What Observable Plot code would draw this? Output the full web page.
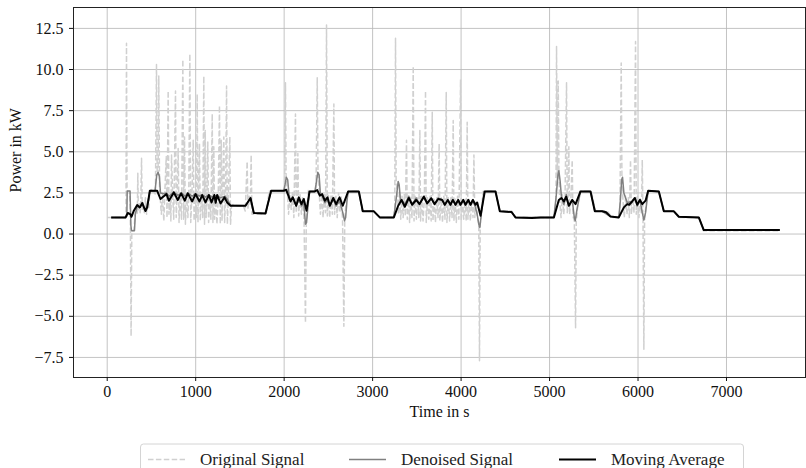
<!DOCTYPE html>
<html><head><meta charset="utf-8">
<script src="https://cdn.jsdelivr.net/npm/d3@7"></script>
<script src="https://cdn.jsdelivr.net/npm/@observablehq/plot@0.6"></script>
<style>
body{margin:0;background:#fff;}
#wrap{position:relative;width:806px;height:468px;overflow:hidden;background:#fff}
#legend{position:absolute;left:0;top:430px}
</style></head><body>
<div id="wrap"><div id="chart"></div><svg id="legend" width="806" height="38"></svg></div>
<script>
// ---- data (time in s, power in kW) ----
const xTicks = [0, 1000, 2000, 3000, 4000, 5000, 6000, 7000];
const yTicks = [-7.5, -5, -2.5, 0, 2.5, 5, 7.5, 10, 12.5];
const seriesNames = ["Original Signal", "Denoised Signal", "Moving Average"];

const originalSignal = [
[0,1.0],[100,1.0],[205,1.0],[212,1.1],[218,11.6],[224,2.7],[232,2.6],[255,2.6],[262,0.4],[270,-6.2],[278,0.1],[290,0.2],[305,0.3],[315,1.3],[330,1.6],[340,1.2],[346,3.7],[352,1.4],[362,1.9],[372,1.3],[380,2.0],[388,4.6],[396,1.5],[410,1.9],[420,1.3],[432,2.2],[445,1.2],[458,2.0],[470,1.6],[482,2.6],[500,2.7],[515,2.5],[530,2.6],[545,2.4],[557,10.3],[565,3.8],[575,3.6],[583,9.6],[592,2.6],[603,1.9],
[612,1.2],[625,2.4],[640,0.8],[652,2.6],[667,4.7],[676,1.0],[689,8.7],[698,1.2],[712,2.5],[720,0.8],[727,4.8],[740,2.4],[752,0.9],[772,8.7],[780,1.0],[792,2.5],[802,5.2],[812,0.7],[825,2.5],[840,0.9],[855,10.6],[864,0.9],[874,5.9],[884,0.6],[898,2.4],[912,1.0],[922,2.5],[934,10.95],[944,0.7],[958,2.4],[972,5.7],[982,0.8],[995,2.4],[1008,1.0],[1017,8.5],[1026,0.7],[1043,5.5],[1052,0.8],[1066,2.4],[1080,1.0],[1092,9.6],[1100,0.6],[1108,6.3],[1118,1.0],[1128,2.3],[1137,5.6],[1146,0.7],[1160,2.3],[1172,0.9],[1187,7.3],[1195,0.7],[1205,5.3],[1214,0.9],[1228,2.3],[1240,0.6],[1255,2.2],[1269,7.8],[1278,0.6],[1289,5.7],[1298,0.8],[1318,5.9],[1327,0.7],[1338,2.2],[1349,9.0],[1358,0.6],[1368,2.0],[1386,5.9],[1394,0.6],[1405,1.7],
[1420,1.8],[1480,1.7],[1540,1.7],[1560,1.4],[1582,4.4],[1590,1.5],[1605,2.3],[1618,1.8],[1627,4.8],[1636,1.2],[1660,1.2],[1750,1.2],[1800,1.3],[1830,2.6],[1900,2.6],[1990,2.6],
[2005,2.8],[2015,9.2],[2022,3.4],[2035,2.7],[2050,1.2],[2065,2.4],[2080,1.5],[2095,2.6],[2110,1.0],[2128,7.3],[2136,1.3],[2146,2.2],[2155,4.9],[2164,1.1],[2180,2.4],[2195,1.2],[2210,2.3],[2225,0.8],[2241,-5.4],[2250,0.6],[2262,1.8],[2275,2.7],[2290,2.6],[2320,2.6],[2345,2.6],[2360,2.8],[2374,9.5],[2383,3.5],[2395,2.6],[2410,1.2],[2425,2.4],[2440,1.0],[2455,2.5],[2468,1.3],[2479,12.7],[2488,1.1],[2500,2.4],[2515,1.0],[2530,2.4],[2545,1.2],[2562,7.9],[2570,1.2],[2585,2.3],[2600,1.0],[2615,2.5],[2630,1.3],[2645,2.3],[2660,0.9],[2675,-5.6],[2685,0.8],[2700,2.0],[2720,2.6],[2850,2.6],[2880,1.4],[3010,1.4],[3080,1.0],[3240,1.0],
[3250,1.6],[3259,11.9],[3266,3.1],[3280,2.6],[3292,1.2],[3305,2.4],[3318,0.9],[3332,2.3],[3345,1.0],[3358,2.4],[3370,1.1],[3383,5.7],[3392,0.9],[3405,2.3],[3418,0.7],[3432,2.3],[3445,1.0],[3459,10.2],[3468,0.8],[3480,2.3],[3495,0.9],[3510,2.2],[3522,1.0],[3534,6.3],[3542,0.8],[3555,2.3],[3570,0.8],[3585,2.2],[3598,8.7],[3606,0.7],[3620,2.2],[3635,0.9],[3650,2.3],[3662,0.8],[3674,7.4],[3682,0.8],[3695,2.2],[3710,0.7],[3725,2.2],[3740,1.0],[3752,5.5],[3760,0.8],[3775,2.2],[3790,0.7],[3805,2.3],[3818,0.9],[3832,8.6],[3840,0.7],[3855,2.2],[3870,0.8],[3885,2.2],[3898,1.0],[3911,6.9],[3919,0.8],[3932,2.2],[3946,0.7],[3960,2.3],[3975,0.9],[3994,9.4],[4002,0.8],[4015,2.2],[4030,0.9],[4045,2.1],[4058,0.8],[4069,6.8],[4077,0.9],[4090,2.1],[4105,0.8],[4120,2.0],[4135,1.0],[4145,4.8],[4155,1.0],[4170,1.9],[4185,1.0],[4200,0.6],[4208,-7.7],[4216,0.5],[4230,1.5],[4250,2.6],[4390,2.6],[4440,1.4],[4570,1.4],[4615,1.0],[5050,1.0],
[5060,1.2],[5072,2.0],[5079,11.4],[5088,3.0],[5098,9.3],[5106,3.8],[5115,2.0],[5130,1.0],[5145,2.4],[5160,1.2],[5175,2.2],[5192,9.2],[5200,1.3],[5210,2.2],[5218,5.3],[5226,1.2],[5240,2.0],[5256,4.5],[5264,1.1],[5280,0.8],[5294,-5.7],[5302,0.8],[5320,1.8],[5340,2.6],[5470,2.6],[5520,1.4],[5650,1.4],[5710,1.0],[5783,1.0],
[5795,1.5],[5810,10.4],[5818,3.5],[5830,2.0],[5845,1.0],[5860,2.3],[5875,1.2],[5890,2.2],[5902,1.0],[5915,4.5],[5925,1.2],[5940,2.2],[5955,1.3],[5972,11.7],[5980,1.2],[5995,2.3],[6010,1.0],[6025,2.2],[6038,1.2],[6048,4.5],[6056,0.9],[6066,-7.0],[6074,0.8],[6090,1.8],[6110,2.6],[6235,2.6],[6290,1.4],[6405,1.4],[6470,1.0],[6690,1.0],[6740,0.2],[7600,0.2]
];

const denoisedSignal = [
[45,1.0],[207,1.0],[222,1.1],[226,2.62],[258,2.62],[268,0.5],[275,0.2],[308,0.2],[318,1.2],[339,1.7],[369,1.6],[396,1.9],[425,1.45],[452,1.7],[482,2.6],[540,2.6],[560,3.6],[575,3.75],[590,3.5],[602,2.5],
[640,2.45],[670,2.5],[700,2.3],[750,2.55],[800,2.35],[840,2.5],[880,2.3],[910,2.5],[960,2.3],[1000,2.45],[1040,2.3],[1075,2.4],[1110,2.25],[1150,2.4],[1180,2.25],[1240,2.35],[1280,2.2],[1330,2.3],[1360,2.1],[1394,1.75],
[1563,1.72],[1620,2.2],[1657,1.28],[1789,1.25],[1853,2.63],[1996,2.63],[2010,3.0],[2025,3.45],[2040,3.3],[2060,2.1],[2098,2.2],[2136,1.7],[2166,2.1],[2196,1.7],[2222,1.9],[2241,0.6],[2253,0.7],[2275,2.0],[2287,2.59],[2347,2.59],[2360,3.0],[2380,3.75],[2395,3.6],[2410,2.4],[2430,2.3],[2460,1.9],[2490,2.1],[2516,1.7],[2555,2.1],[2588,1.7],[2626,2.0],[2663,1.3],[2683,0.8],[2695,1.0],[2710,2.0],[2724,2.59],[2844,2.59],[2889,1.38],[3014,1.38],[3081,1.01],[3240,1.01],
[3270,2.3],[3289,3.2],[3300,3.0],[3315,2.0],[3327,2.1],[3364,1.8],[3409,2.3],[3447,1.8],[3492,2.2],[3530,1.8],[3579,2.3],[3617,1.9],[3662,2.2],[3700,1.8],[3741,2.2],[3786,2.1],[3816,1.75],[3850,2.1],[3880,1.75],[3907,2.1],[3937,1.75],[3967,2.1],[3993,1.75],[4024,2.1],[4050,1.75],[4081,2.1],[4107,1.75],[4133,2.1],[4163,1.6],[4182,1.2],[4200,0.6],[4212,0.4],[4235,1.5],[4260,2.59],[4389,2.59],[4438,1.38],[4570,1.34],[4615,1.01],[5049,1.0],
[5075,2.3],[5095,3.6],[5105,3.85],[5120,3.2],[5135,2.2],[5162,1.8],[5190,2.4],[5218,1.7],[5256,2.1],[5280,1.0],[5290,0.8],[5310,1.5],[5350,2.59],[5463,2.59],[5512,1.38],[5595,1.38],[5689,1.06],[5783,1.01],
[5800,2.0],[5815,3.3],[5825,3.45],[5840,2.5],[5878,1.9],[5934,2.0],[5964,2.2],[5991,1.7],[6021,2.1],[6048,1.3],[6066,0.85],[6085,1.3],[6115,2.63],[6235,2.59],[6292,1.38],[6405,1.38],[6461,1.05],[6687,1.01],[6743,0.24],[7603,0.24]
];

const movingAverage = [
[45,1.01],[207,1.01],[233,1.28],[263,1.2],[275,1.05],[301,1.42],[339,1.76],[369,1.62],[396,1.88],[433,1.4],[452,1.62],[482,2.63],[565,2.63],[602,2.13],[670,2.43],[697,2.03],[753,2.53],[798,2.07],[836,2.47],[877,2.03],[911,2.47],[961,1.98],[998,2.43],[1043,1.98],[1074,2.37],[1111,1.92],[1149,2.37],[1179,1.92],[1211,2.37],[1226,1.9],[1243,2.37],[1281,1.86],[1326,2.23],[1356,1.92],[1394,1.72],
[1563,1.72],[1620,2.19],[1657,1.28],[1789,1.25],[1853,2.63],[1996,2.63],[2023,2.69],[2072,1.98],[2098,2.23],[2136,1.72],[2166,2.23],[2196,1.82],[2222,2.13],[2253,1.42],[2287,2.59],[2347,2.59],[2374,2.67],[2403,2.33],[2430,2.43],[2460,2.03],[2490,2.23],[2516,1.72],[2555,2.19],[2588,1.82],[2626,2.23],[2663,1.72],[2724,2.59],[2844,2.59],[2889,1.38],[3014,1.38],[3081,1.01],[3240,1.01],
[3289,1.72],[3327,2.07],[3364,1.66],[3409,2.19],[3447,1.78],[3492,2.07],[3530,1.82],[3579,2.27],[3617,1.86],[3662,2.17],[3700,1.82],[3741,2.13],[3786,2.07],[3816,1.78],[3850,2.07],[3880,1.78],[3907,2.07],[3937,1.78],[3967,2.07],[3993,1.78],[4024,2.07],[4050,1.78],[4081,2.07],[4107,1.78],[4133,2.07],[4163,1.78],[4182,1.92],[4220,1.11],[4268,2.59],[4389,2.59],[4438,1.38],[4570,1.34],[4615,1.01],[4800,0.98],[4900,1.01],[5049,1.0],
[5105,2.07],[5135,2.19],[5162,1.98],[5188,2.27],[5218,1.72],[5256,2.07],[5294,1.82],[5350,2.59],[5463,2.59],[5512,1.38],[5595,1.38],[5640,1.32],[5689,1.06],[5783,1.01],
[5840,1.62],[5878,1.82],[5900,1.78],[5934,1.98],[5964,2.19],[5991,1.78],[6021,2.07],[6048,1.82],[6085,2.03],[6115,2.63],[6235,2.59],[6292,1.38],[6405,1.38],[6461,1.05],[6687,1.01],[6743,0.24],[7603,0.24]
];

// ---- styles ----
const FONT = "'Liberation Serif', 'Times New Roman', serif";
const colors = ["#d0d0d0", "#808080", "#000000"];
const widths = [1.5, 1.5, 2];
const dashes = ["5.5,2.4", null, null];

const fmtY = d => (d < 0 ? "\u2212" : "") + Math.abs(d).toFixed(1);

const lineOpts = i => ({x: d => d[0], y: d => d[1], stroke: colors[i], strokeWidth: widths[i],
  strokeDasharray: dashes[i] ?? undefined, strokeLinejoin: "round", strokeLinecap: "butt"});

const chart = Plot.plot({
  width: 806, height: 430,
  marginLeft: 73, marginRight: 1, marginTop: 7, marginBottom: 53,
  style: {fontFamily: FONT, fontSize: "16px", color: "#111", background: "white", overflow: "visible"},
  x: {domain: [-381, 7893]},
  y: {domain: [-8.72, 13.77]},
  marks: [
    Plot.gridX(xTicks, {stroke: "#b8b8b8", strokeOpacity: 0.85, strokeWidth: 1}),
    Plot.gridY(yTicks, {stroke: "#b8b8b8", strokeOpacity: 0.85, strokeWidth: 1}),
    Plot.line(originalSignal, lineOpts(0)),
    Plot.line(denoisedSignal, lineOpts(1)),
    Plot.line(movingAverage, lineOpts(2)),
    Plot.frame({stroke: "#222", strokeWidth: 1}),
    Plot.axisX(xTicks, {tickSize: 4, tickPadding: 4, tickFormat: d => String(d), label: null, fontSize: 16}),
    Plot.axisY(yTicks, {tickSize: 4, tickPadding: 6, tickFormat: fmtY, label: null, fontSize: 16}),
    Plot.text(["Time in s"], {frameAnchor: "bottom", dy: 39, fontSize: 16, fill: "#111"}),
    Plot.text(["Power in kW"], {frameAnchor: "left", dx: -58, rotate: -90, fontSize: 16, fill: "#111"})
  ]
});
document.getElementById("chart").appendChild(chart);

// ---- legend ----
const lg = d3.select("#legend");
lg.append("rect").attr("x", 140.5).attr("y", 14).attr("width", 603).attr("height", 40)
  .attr("rx", 3).attr("fill", "white").attr("stroke", "#d4d4d4").attr("stroke-width", 1);
const itemX = [148, 349, 559];
seriesNames.forEach((name, i) => {
  const yy = 29.5;
  lg.append("line").attr("x1", itemX[i]).attr("x2", itemX[i] + 37).attr("y1", yy).attr("y2", yy)
    .attr("stroke", colors[i]).attr("stroke-width", widths[i])
    .attr("stroke-dasharray", dashes[i] || null);
  lg.append("text").attr("x", itemX[i] + 52).attr("y", yy).attr("dy", "0.35em")
    .attr("font-family", FONT).attr("font-size", 17).attr("fill", "#222").text(name);
});
</script>
</body></html>
